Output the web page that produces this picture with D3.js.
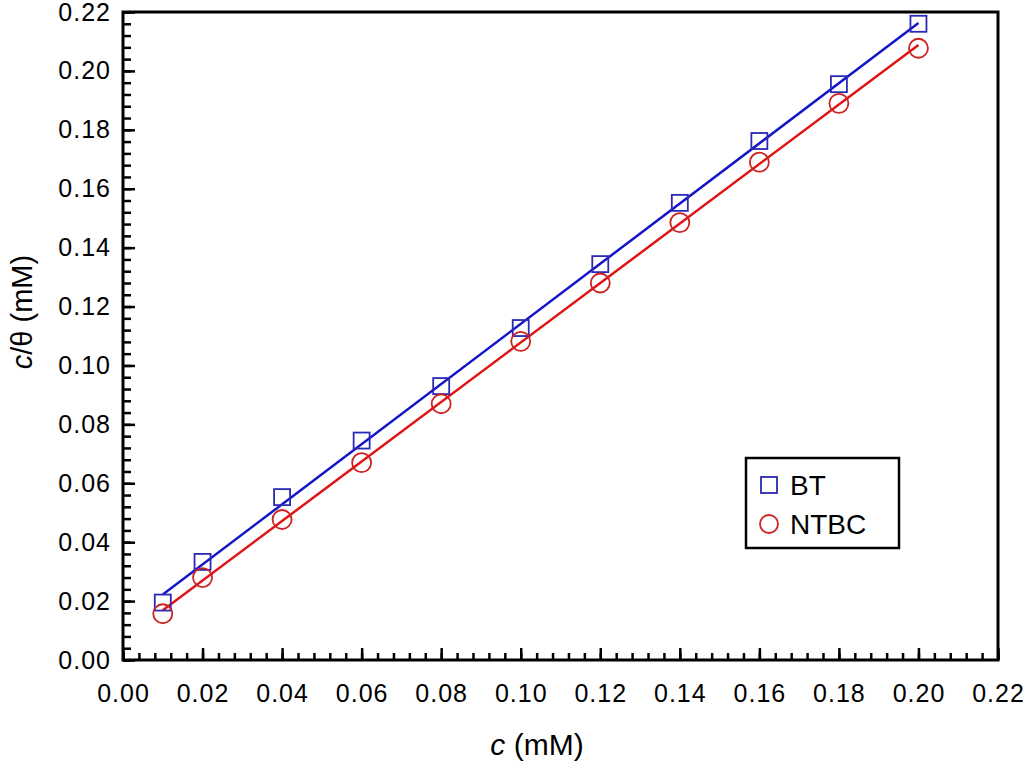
<!DOCTYPE html>
<html>
<head>
<meta charset="utf-8">
<script src="https://cdn.jsdelivr.net/npm/d3@7"></script>
<style>
  body { margin: 0; background: #fff; }
  text { font-family: "Liberation Sans", Arial, Helvetica, sans-serif; }
</style>
</head>
<body>
<div id="chart"></div>
<script>
// concentrations (mM)
var conc = [0.01, 0.02, 0.04, 0.06, 0.08, 0.10, 0.12, 0.14, 0.16, 0.18, 0.20];
// c/theta values
var btValues = [0.0195, 0.0333, 0.0553, 0.0745, 0.0930, 0.1127, 0.1344, 0.1552, 0.1762, 0.1955, 0.2160];
var ntbcValues = [0.0157, 0.0280, 0.0477, 0.0670, 0.0870, 0.1082, 0.1280, 0.1485, 0.1690, 0.1890, 0.2077];
var xTicks = [0, 0.02, 0.04, 0.06, 0.08, 0.10, 0.12, 0.14, 0.16, 0.18, 0.20, 0.22];
var yTicks = [0, 0.02, 0.04, 0.06, 0.08, 0.10, 0.12, 0.14, 0.16, 0.18, 0.20, 0.22];
var seriesNames = ["BT", "NTBC"];

var svgWidth = 1024;
var svgHeight = 762;
var margin = { top: 12, right: 26, bottom: 102, left: 123 };
var width = svgWidth - margin.left - margin.right;
var height = svgHeight - margin.top - margin.bottom;

var svg = d3.select("#chart").append("svg")
    .attr("width", svgWidth)
    .attr("height", svgHeight);

var chartGroup = svg.append("g")
    .attr("transform", `translate(${margin.left}, ${margin.top})`);

var x = d3.scaleLinear().domain([0, 0.22]).range([0, width]);
var y = d3.scaleLinear().domain([0, 0.22]).range([height, 0]);

// minor ticks every 0.004
var minor = d3.range(0, 0.2201, 0.004);

// ticks point inward
var bottomMinor = d3.axisBottom(x).tickValues(minor).tickSize(-7).tickFormat("");
var bottomAxis = d3.axisBottom(x).tickValues(xTicks).tickSize(-12).tickPadding(24)
    .tickFormat(d3.format(".2f"));
var leftMinor = d3.axisLeft(y).tickValues(minor).tickSize(-8).tickFormat("");
var leftAxis = d3.axisLeft(y).tickValues(yTicks).tickSize(-12).tickPadding(12)
    .tickFormat(d3.format(".2f"));

function styleAxis(g) {
    g.select(".domain").remove();
    g.selectAll("line").attr("stroke", "#000").attr("stroke-width", 2.5);
    g.selectAll("text").attr("font-size", 25).attr("fill", "#000")
        .attr("letter-spacing", 1)
        .style("font-family", "'Liberation Sans', Arial, sans-serif");
}

chartGroup.append("g").attr("transform", `translate(0, ${height})`).call(bottomMinor).call(styleAxis);
chartGroup.append("g").attr("transform", `translate(0, ${height})`).call(bottomAxis).call(styleAxis);
chartGroup.append("g").call(leftMinor).call(styleAxis);
chartGroup.append("g").call(leftAxis).call(styleAxis);

// frame
chartGroup.append("rect")
    .attr("x", 0).attr("y", 0)
    .attr("width", width).attr("height", height)
    .attr("fill", "none").attr("stroke", "#000").attr("stroke-width", 3);

// least squares fit lines
function fit(xs, ys) {
    var mx = d3.mean(xs), my = d3.mean(ys);
    var sxy = d3.sum(xs, (v, i) => (v - mx) * (ys[i] - my));
    var sxx = d3.sum(xs, v => (v - mx) * (v - mx));
    var b = sxy / sxx;
    var a = my - b * mx;
    return [[xs[0], a + b * xs[0]], [xs[xs.length - 1], a + b * xs[xs.length - 1]]];
}

var line = d3.line().x(d => x(d[0])).y(d => y(d[1]));

chartGroup.append("path")
    .attr("d", line(fit(conc, btValues)))
    .attr("stroke", "#1414c8").attr("stroke-width", 2.5).attr("fill", "none");
chartGroup.append("path")
    .attr("d", line(fit(conc, ntbcValues)))
    .attr("stroke", "#e01414").attr("stroke-width", 2.5).attr("fill", "none");

var sq = 16;
chartGroup.selectAll(".bt")
    .data(conc)
    .enter().append("rect")
    .attr("x", (d) => x(d) - sq / 2)
    .attr("y", (d, i) => y(btValues[i]) - sq / 2)
    .attr("width", sq).attr("height", sq)
    .attr("fill", "none").attr("stroke", "#2a2ab4").attr("stroke-width", 1.8);

chartGroup.selectAll(".ntbc")
    .data(conc)
    .enter().append("circle")
    .attr("cx", d => x(d))
    .attr("cy", (d, i) => y(ntbcValues[i]))
    .attr("r", 9.5)
    .attr("fill", "none").attr("stroke", "#cc2222").attr("stroke-width", 1.8);

// legend
var legend = svg.append("g").attr("transform", "translate(746, 458)");
legend.append("rect")
    .attr("width", 153).attr("height", 90)
    .attr("fill", "#fff").attr("stroke", "#000").attr("stroke-width", 2.5);
legend.append("rect")
    .attr("x", 23 - 8).attr("y", 27 - 8).attr("width", 16).attr("height", 16)
    .attr("fill", "none").attr("stroke", "#2a2ab4").attr("stroke-width", 1.8);
legend.append("circle")
    .attr("cx", 23).attr("cy", 66).attr("r", 9)
    .attr("fill", "none").attr("stroke", "#cc2222").attr("stroke-width", 1.8);
legend.selectAll(".lbl")
    .data(seriesNames)
    .enter().append("text")
    .attr("x", 44)
    .attr("y", (d, i) => 37 + i * 39)
    .attr("font-size", 28)
    .text(d => d);

// axis titles
var xt = svg.append("text")
    .attr("x", 537)
    .attr("y", 755)
    .attr("text-anchor", "middle")
    .attr("font-size", 30);
xt.append("tspan").attr("font-style", "italic").text("c");
xt.append("tspan").text(" (mM)");

var yt = svg.append("text")
    .attr("transform", "translate(32, 312) rotate(-90)")
    .attr("text-anchor", "middle")
    .attr("font-size", 29);
yt.append("tspan").attr("font-style", "italic").text("c");
yt.append("tspan").text("/θ (mM)");
</script>
</body>
</html>
